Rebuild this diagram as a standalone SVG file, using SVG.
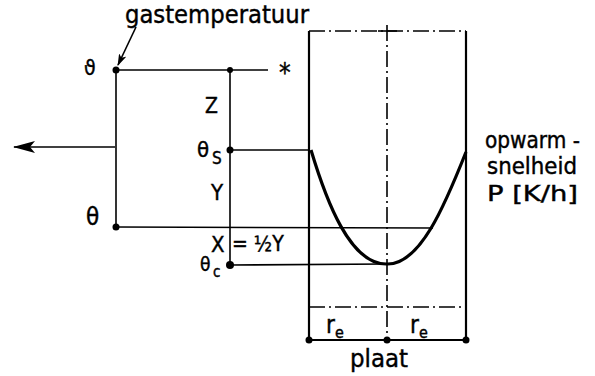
<svg xmlns="http://www.w3.org/2000/svg" width="595" height="376" viewBox="0 0 595 376">
<style>
.ln{stroke:#000;stroke-width:1.6;fill:none}
.pl{stroke:#000;stroke-width:2.2;fill:none}
.dd{stroke:#000;stroke-width:1.6;fill:none;stroke-dasharray:16 4 2 4}
.cv{stroke:#000;stroke-width:3.2;fill:none}
.t{font-family:"DejaVu Sans Condensed","DejaVu Sans",sans-serif;fill:#000;stroke:#000;stroke-width:0.4}
.dot{fill:#000}
</style>
<defs>
<marker id="ah" markerWidth="12" markerHeight="8" refX="11" refY="4" orient="auto" markerUnits="userSpaceOnUse">
<path d="M0,0 L12,4 L0,8 L3,4 Z" fill="#000"/>
</marker>
<marker id="ahb" markerWidth="22" markerHeight="12" refX="21" refY="6" orient="auto" markerUnits="userSpaceOnUse">
<path d="M0,0 L22,6 L0,12 L5,6 Z" fill="#000"/>
</marker>
</defs>
<rect width="595" height="376" fill="#fff"/>
<g id="connectors">
<line class="ln" x1="116" y1="70" x2="116" y2="227"/>
<line class="ln" x1="116" y1="70" x2="268" y2="70"/>
<line class="ln" x1="230" y1="70" x2="230" y2="265"/>
<line class="ln" x1="115" y1="147" x2="14" y2="147" marker-end="url(#ahb)" stroke-width="2"/>
<line class="ln" x1="230" y1="150" x2="309" y2="150"/>
<line class="ln" x1="116" y1="227" x2="433" y2="228"/>
<line class="ln" x1="230" y1="265" x2="387" y2="264"/>
<line class="ln" x1="136" y1="27" x2="118" y2="65" marker-end="url(#ah)" stroke-width="2"/>
</g>
<g id="plaat">
<line class="pl" x1="309" y1="31" x2="309" y2="340"/>
<line class="pl" x1="466" y1="31" x2="466" y2="340"/>
<line class="pl" x1="309" y1="340" x2="466" y2="340"/>
<line class="dd" x1="309" y1="31" x2="466" y2="31"/>
<line class="ln" x1="378" y1="31" x2="397" y2="31"/>
<line class="dd" x1="387" y1="25" x2="387" y2="340"/>
<line class="dd" x1="309" y1="307" x2="466" y2="307"/>
<path class="cv" d="M311,150 C326,200 350,265 387,264 C420,265 445,205 466,152"/>
</g>
<g id="dots">
<circle class="dot" cx="116" cy="70" r="3.5"/>
<circle class="dot" cx="230" cy="70" r="3"/>
<circle class="dot" cx="230" cy="150" r="3.5"/>
<circle class="dot" cx="116" cy="227" r="3.5"/>
<circle class="dot" cx="230" cy="265" r="4"/>
<circle class="dot" cx="309" cy="340" r="3.5"/>
<circle class="dot" cx="387" cy="340" r="3.5"/>
<circle class="dot" cx="466" cy="340" r="3.5"/>
</g>
<g id="labels">
<text class="t" x="125" y="23" font-size="25" textLength="184" lengthAdjust="spacingAndGlyphs">gastemperatuur</text>
<text class="t" x="84" y="75" font-size="21">ϑ</text>
<text class="t" x="86" y="225" font-size="24">θ</text>
<text class="t" x="279" y="82" font-size="26">*</text>
<text class="t" x="205" y="113" font-size="21">Z</text>
<text class="t" x="197" y="157" font-size="22">θ</text>
<text class="t" x="212" y="164" font-size="17">S</text>
<text class="t" x="211" y="200" font-size="22">Y</text>
<text class="t" x="211" y="252" font-size="22">X</text>
<text class="t" x="232" y="251" font-size="21">= ½Y</text>
<text class="t" x="200" y="271" font-size="19">θ</text>
<text class="t" x="213" y="277" font-size="15">c</text>
<text class="t" x="485" y="148" font-size="23" textLength="95" lengthAdjust="spacingAndGlyphs">opwarm -</text>
<text class="t" x="487" y="174" font-size="23" textLength="90" lengthAdjust="spacingAndGlyphs">snelheid</text>
<text class="t" x="487" y="201" font-size="22" textLength="91" lengthAdjust="spacingAndGlyphs">P [K/h]</text>
<text class="t" x="326" y="333" font-size="24">r</text>
<text class="t" x="335" y="338" font-size="16">e</text>
<text class="t" x="410" y="333" font-size="24">r</text>
<text class="t" x="419" y="338" font-size="16">e</text>
<text class="t" x="350" y="367" font-size="25" textLength="58" lengthAdjust="spacingAndGlyphs">plaat</text>
</g>
</svg>
